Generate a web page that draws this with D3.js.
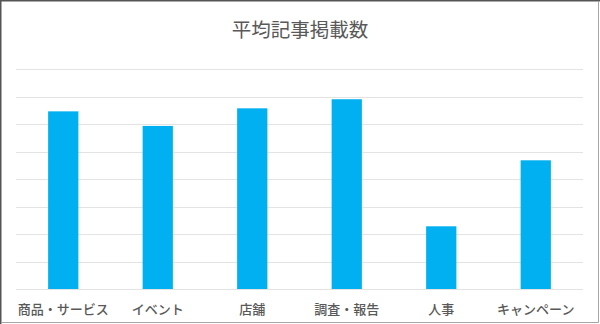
<!DOCTYPE html>
<html>
<head>
<meta charset="utf-8">
<script src="https://cdn.jsdelivr.net/npm/d3@7"></script>
<style>
  html, body { margin: 0; padding: 0; background: #fff; }
  svg { display: block; }
</style>
</head>
<body>
<div id="chart"></div>
<script>
// data (no axis labels shown, units = gridline steps)
const categories = ['商品・サービス', 'イベント', '店舗', '調査・報告', '人事', 'キャンペーン'];
const values = [6.46, 5.93, 6.57, 6.90, 2.28, 4.68];
const gridTicks = [0, 1, 2, 3, 4, 5, 6, 7, 8];
const title = '平均記事掲載数';

const W = 600, H = 324;
const margin = { top: 69, right: 17, bottom: 35, left: 16 };
const font = '"Noto Sans CJK JP", "Noto Sans", sans-serif';

const svg = d3.select('#chart').append('svg')
  .attr('width', W)
  .attr('height', H);

// background
svg.append('rect')
  .attr('width', W).attr('height', H)
  .attr('fill', '#fff');

const x = d3.scaleBand()
  .domain(categories)
  .range([margin.left, W - margin.right])
  .paddingInner(0.68)
  .paddingOuter(0.34);

const y = d3.scaleLinear()
  .domain([0, 8])
  .range([H - margin.bottom, margin.top]);

// gridlines
svg.append('g')
  .selectAll('line')
  .data(gridTicks)
  .join('line')
  .attr('x1', margin.left)
  .attr('x2', W - margin.right)
  .attr('y1', d => Math.round(y(d)) + 0.5)
  .attr('y2', d => Math.round(y(d)) + 0.5)
  .attr('stroke', '#e3e3e3')
  .attr('stroke-width', 1);

// bars
svg.append('g')
  .selectAll('rect')
  .data(values)
  .join('rect')
  .attr('x', (d, i) => x(categories[i]))
  .attr('y', d => y(d))
  .attr('width', x.bandwidth())
  .attr('height', d => y(0) - y(d))
  .attr('fill', '#00b0f0');

// category labels
const xAxis = svg.append('g')
  .attr('transform', `translate(0,${H - margin.bottom})`)
  .call(d3.axisBottom(x).tickSize(0).tickPadding(16));
xAxis.select('.domain').remove();
xAxis.selectAll('text')
  .attr('font-family', font)
  .attr('font-size', 13)
  .attr('font-weight', 500)
  .attr('fill', '#595959');

// title
svg.append('text')
  .attr('x', 300)
  .attr('y', 37)
  .attr('text-anchor', 'middle')
  .attr('font-family', font)
  .attr('font-size', 19.5)
  .attr('font-weight', 400)
  .attr('fill', '#595959')
  .text(title);

// frame edges
svg.append('path')
  .attr('d', `M0.75,${H} V0.75 H${W}`)
  .attr('fill', 'none')
  .attr('stroke', '#555')
  .attr('stroke-width', 1.5);
svg.append('path')
  .attr('d', `M${W - 1.5},1.5 V${H - 1.5} H1.5`)
  .attr('fill', 'none')
  .attr('stroke', '#a6a6a6')
  .attr('stroke-width', 1);
</script>
</body>
</html>
